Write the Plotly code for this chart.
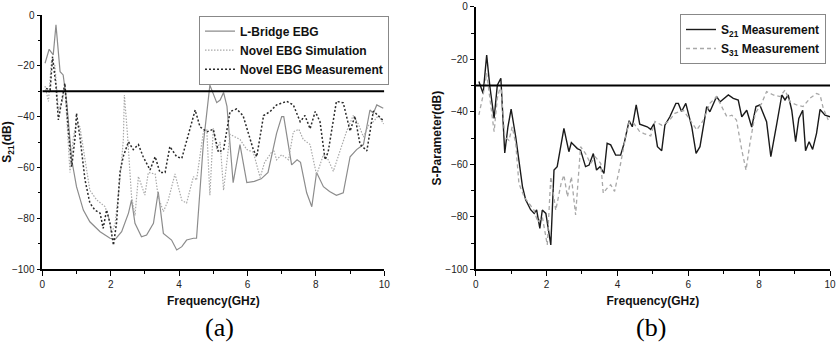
import plotly.graph_objects as go

# ---------------- data: panel (a) ----------------
lb_freq = [0.08, 0.2, 0.32, 0.4, 0.52, 0.61, 0.71, 0.86, 1.0, 1.2, 1.39, 1.69, 1.98, 2.13, 2.32,
           2.52, 2.61, 2.71, 2.9, 3.05, 3.25, 3.39, 3.54, 3.68, 3.78, 3.93, 4.08, 4.22, 4.42, 4.51,
           4.71, 4.9, 5.1, 5.2, 5.3, 5.4, 5.58, 5.78, 5.98, 6.2, 6.4, 6.6, 6.85, 7.0, 7.06, 7.29,
           7.45, 7.55, 7.73, 7.88, 8.02, 8.22, 8.4, 8.6, 8.8, 9.0, 9.19, 9.39, 9.58, 9.68, 9.78, 9.97]
lb_s21 = [-19, -13.5, -15.7, -3.9, -22.3, -23.6, -33.8, -57, -67.6, -76.8, -81.4, -85.3, -87.9, -88.3, -85.3,
          -78, -72.8, -82, -87.3, -86.6, -82, -69.6, -86, -87.5, -88.6, -92.5, -91.2, -88.6, -87.9, -87.9,
          -50.5, -27.6, -34.5, -33.5, -30.5, -36, -66, -51, -66, -65.5, -64.5, -62, -46.6, -40, -40, -59,
          -57, -58, -70, -75.5, -62, -67.6, -69.5, -71, -70, -55.8, -53, -51, -37.4, -38.7, -35.4, -36.7]

sim_freq = [0.08, 0.18, 0.27, 0.37, 0.47, 0.57, 0.66, 0.81, 0.91, 1.0, 1.1, 1.25, 1.39, 1.59, 1.83,
            1.93, 2.03, 2.13, 2.27, 2.37, 2.4, 2.49, 2.61, 2.71, 2.81, 3.0, 3.1, 3.3, 3.39, 3.54,
            3.68, 3.88, 4.08, 4.22, 4.42, 4.51, 4.61, 4.71, 4.81, 4.9, 5.0, 5.1, 5.2, 5.3, 5.49,
            5.78, 5.98, 6.17, 6.37, 6.5, 6.76, 6.85, 7.0, 7.2, 7.34, 7.5, 7.63, 7.83, 8.02, 8.22,
            8.36, 8.51, 8.7, 8.9, 9.09, 9.24, 9.39, 9.53, 9.68, 9.83, 9.98]
sim_s21 = [-28, -34, -17.7, -20, -37.4, -34.8, -28, -62, -48, -42.6, -44, -57, -69, -72.8, -75.4,
           -79, -86, -82, -65, -49, -31.5, -47, -71.6, -79, -63.6, -70.9, -62, -62.6, -71.6, -77.4,
           -73, -62.6, -73, -74, -63.6, -65, -55, -46, -45.3, -71, -44.6, -53, -50, -69, -47,
           -49, -53, -54, -64, -58, -53, -57, -55, -57, -46, -45, -49, -51, -63, -55,
           -57, -61.5, -53.7, -45.7, -39.6, -42.9, -48, -43.6, -42, -39.6, -42.9]

meas_freq = [0.11, 0.23, 0.3, 0.4, 0.47, 0.54, 0.61, 0.66, 0.76, 0.86, 0.96, 1.0, 1.1, 1.25, 1.39,
             1.54, 1.69, 1.78, 1.88, 1.98, 2.08, 2.17, 2.27, 2.37, 2.52, 2.66, 2.81, 2.95, 3.15, 3.3,
             3.44, 3.59, 3.73, 3.93, 4.08, 4.22, 4.32, 4.47, 4.61, 4.81, 5.0, 5.15, 5.3, 5.49, 5.68,
             5.87, 6.17, 6.27, 6.47, 6.66, 6.85, 7.15, 7.34, 7.54, 7.68, 7.83, 7.98, 8.12, 8.27, 8.36,
             8.6, 8.8, 9.0, 9.14, 9.29, 9.49, 9.68, 9.98]
meas_s21 = [-28.9, -29.5, -16.4, -28, -41.3, -36, -31, -26.9, -45, -59.7, -48, -38.7, -48, -65, -74,
            -76.8, -78, -84, -76.8, -82, -90.6, -82, -62, -55.6, -49.9, -53, -51, -55.8, -61, -55.8,
            -62, -62, -51.8, -55.8, -56.4, -49.9, -44.6, -37.4, -44, -46, -45, -54, -53, -38, -37,
            -39.6, -53, -55.8, -39.6, -38, -35.4, -34, -35.4, -42, -39.6, -44.8, -38, -42, -57, -53.8,
            -34, -34.6, -45.7, -39.8, -50.9, -53.5, -37.8, -41.7]

# ---------------- data: panel (b) ----------------
s21_freq = [0.09, 0.21, 0.31, 0.4, 0.52, 0.61, 0.71, 0.82, 0.91, 1.0, 1.13, 1.22, 1.32, 1.41, 1.55,
            1.65, 1.72, 1.81, 1.88, 1.98, 2.04, 2.12, 2.21, 2.3, 2.49, 2.63, 2.7, 2.87, 2.96, 3.1,
            3.2, 3.32, 3.41, 3.51, 3.62, 3.71, 3.81, 3.95, 4.09, 4.19, 4.33, 4.42, 4.53, 4.63, 4.84,
            4.94, 5.03, 5.13, 5.25, 5.34, 5.48, 5.65, 5.72, 5.81, 5.93, 6.1, 6.22, 6.33, 6.52, 6.61,
            6.8, 6.9, 7.13, 7.27, 7.41, 7.51, 7.65, 7.79, 7.91, 8.02, 8.21, 8.33, 8.5, 8.64, 8.73,
            8.82, 8.92, 9.03, 9.12, 9.23, 9.31, 9.41, 9.51, 9.62, 9.72, 9.86, 10.0]
s21_meas = [-28.5, -33, -18.4, -30.4, -42.5, -29.9, -27.2, -55.7, -45.7, -39, -49.6, -59.6, -68.5, -73.5, -77.3,
            -78.7, -77.4, -84.4, -77.4, -78.7, -83.7, -90.7, -62.2, -60.9, -46.3, -55.2, -51.7, -54, -54.6, -60.9,
            -60.3, -55.9, -62.2, -60.9, -63.5, -52, -52.6, -56.5, -56.5, -52, -43.4, -45.7, -37.4, -44.7, -45.7,
            -46.7, -44.6, -53.3, -54.8, -45.1, -41.9, -36.8, -36.8, -39.9, -36.8, -45.8, -55.8, -53.3, -38, -40,
            -34.2, -36.2, -33.6, -34.9, -35.5, -41.9, -39.4, -45.8, -38, -37.4, -43.8, -57.1, -44.4, -33.6, -35.5,
            -33.6, -39.4, -51.4, -42.5, -39.4, -54.8, -51.4, -54.3, -48.2, -39.1, -41.3, -41.9]

s31_freq = [0.09, 0.21, 0.31, 0.4, 0.52, 0.61, 0.71, 0.82, 0.94, 1.03, 1.13, 1.22, 1.37, 1.51, 1.65,
            1.75, 1.88, 2.02, 2.12, 2.26, 2.41, 2.49, 2.59, 2.7, 2.82, 2.96, 3.1, 3.24, 3.38, 3.53,
            3.6, 3.71, 3.81, 3.92, 4.09, 4.23, 4.33, 4.47, 4.63, 4.75, 4.94, 5.06, 5.25, 5.44, 5.62,
            5.86, 6.05, 6.24, 6.43, 6.61, 6.8, 6.95, 7.09, 7.23, 7.36, 7.51, 7.63, 7.74, 7.89, 8.07,
            8.21, 8.4, 8.59, 8.73, 8.87, 9.06, 9.24, 9.43, 9.62, 9.72, 9.81, 9.95]
s31_meas = [-41.2, -33.6, -25.3, -34.8, -47.6, -34.8, -29.7, -49.6, -50.9, -45.7, -52.2, -67.3, -72.4, -75, -77.5,
            -82, -80, -90.7, -64.7, -77.5, -67.3, -64.1, -72.4, -64.7, -79.3, -53.3, -55.9, -59.7, -57.2, -59.7,
            -71, -69.1, -67.8, -70.3, -59.7, -49.6, -43.9, -44.5, -47.6, -48.3, -49.2, -43.7, -45.1, -43.7, -40.6,
            -39.4, -43.1, -46.9, -43.1, -36.8, -34.2, -38, -41.9, -41.3, -43.1, -54.6, -62.2, -52, -40.6, -36.8,
            -32.3, -33.6, -34.2, -31.7, -36.2, -37.4, -38, -34.9, -33, -33.6, -38.7, -43.1]

threshold_db = -30
x_ticks = [0, 2, 4, 6, 8, 10]
y_ticks = [-100, -80, -60, -40, -20, 0]

# ---------------- figure ----------------
W, H = 836, 346
fig = go.Figure()

fig.add_trace(go.Scatter(x=lb_freq, y=lb_s21, mode="lines", name="L-Bridge EBG",
                         line=dict(color="#8c8c8c", width=1.2), xaxis="x", yaxis="y", legend="legend"))
fig.add_trace(go.Scatter(x=sim_freq, y=sim_s21, mode="lines", name="Novel EBG Simulation",
                         line=dict(color="#a9a9a9", width=1.2, dash="1.5px,1.5px"), xaxis="x", yaxis="y",
                         legend="legend"))
fig.add_trace(go.Scatter(x=meas_freq, y=meas_s21, mode="lines", name="Novel EBG Measurement",
                         line=dict(color="#2a2a2a", width=1.5, dash="2px,2px"), xaxis="x", yaxis="y",
                         legend="legend"))

fig.add_trace(go.Scatter(x=s21_freq, y=s21_meas, mode="lines", name="S<sub>21</sub> Measurement",
                         line=dict(color="#1a1a1a", width=1.4), xaxis="x2", yaxis="y2", legend="legend2"))
fig.add_trace(go.Scatter(x=s31_freq, y=s31_meas, mode="lines", name="S<sub>31</sub> Measurement",
                         line=dict(color="#a8a8a8", width=1.3, dash="4px,3px"), xaxis="x2", yaxis="y2",
                         legend="legend2"))

font_family = "Liberation Sans, Arial, sans-serif"
tickfont = dict(family=font_family, size=10, color="#222")
title_font = dict(family=font_family, size=12, color="#111", weight="bold")

common_x = dict(range=[0, 10], tickvals=x_ticks, ticks="outside", ticklen=5, tickwidth=1.3,
                tickcolor="black", showline=True, linecolor="black", linewidth=1.6,
                showgrid=False, zeroline=False, tickfont=tickfont, automargin=False,
                title=dict(text="Frequency(GHz)", font=title_font, standoff=8),
                minor=dict(ticks="outside", dtick=1, ticklen=3, tickwidth=1.2, tickcolor="black"))
common_y = dict(range=[-100, 0], tickvals=y_ticks, ticks="outside", ticklen=4, tickwidth=1.3,
                tickcolor="black", showline=True, linecolor="black", linewidth=1.6,
                showgrid=False, zeroline=False, tickfont=tickfont, automargin=False,
                minor=dict(ticks="outside", dtick=10, ticklen=3, tickwidth=1.2, tickcolor="black"))

def px_x(p):
    return p / W

def px_y(p):
    return 1 - p / H

fig.update_layout(
    width=W, height=H,
    margin=dict(l=0, r=0, t=0, b=0, autoexpand=False),
    paper_bgcolor="white", plot_bgcolor="white",
    xaxis=dict(domain=[px_x(42.3), px_x(384.3)], anchor="y", **common_x),
    yaxis=dict(domain=[px_y(269), px_y(15)], anchor="x",
               title=dict(text="S<sub>21</sub>(dB)", font=title_font, standoff=0), **common_y),
    xaxis2=dict(domain=[px_x(475.7), px_x(830)], anchor="y2", **common_x),
    yaxis2=dict(domain=[px_y(269.3), px_y(6.8)], anchor="x2",
                title=dict(text="S-Parameter(dB)", font=title_font, standoff=1), **common_y),
    legend=dict(x=px_x(389), y=px_y(15.7), xanchor="right", yanchor="top",
                bgcolor="white", bordercolor="#888", borderwidth=1,
                font=dict(family=font_family, size=12, color="#111", weight="bold"),
                tracegroupgap=0, itemwidth=30),
    legend2=dict(x=px_x(826), y=px_y(14), xanchor="right", yanchor="top",
                 bgcolor="white", bordercolor="#888", borderwidth=1,
                 font=dict(family=font_family, size=12, color="#111", weight="bold"),
                 tracegroupgap=0, itemwidth=30),
    showlegend=True,
)

for xr, yr in (("x", "y"), ("x2", "y2")):
    fig.add_shape(type="line", xref=xr, yref=yr, x0=0, x1=10, y0=threshold_db, y1=threshold_db,
                  line=dict(color="black", width=2))

serif_font = dict(family="Liberation Serif, Times New Roman, serif", size=26, color="black")
for label, xc in (("(a)", 219), ("(b)", 651)):
    fig.add_annotation(text=label, xref="paper", yref="paper", x=px_x(xc), y=px_y(327),
                       showarrow=False, xanchor="center", yanchor="middle", font=serif_font)

fig.write_html("out.html",
               config={"displayModeBar": False},
               post_script="document.body.style.margin='0px';document.body.style.overflow='hidden';")
